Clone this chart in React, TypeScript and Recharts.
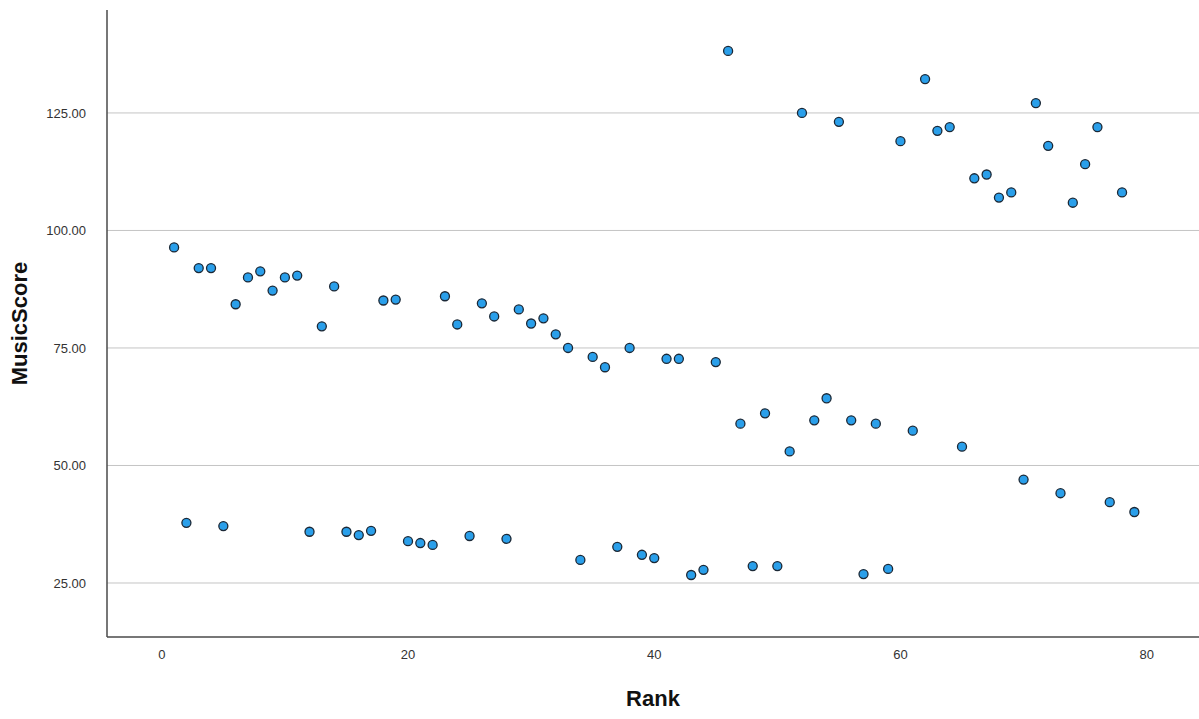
import React from 'react'
import {
  ScatterChart,
  Scatter,
  XAxis,
  YAxis,
  ZAxis,
  CartesianGrid,
  Label
} from 'recharts'

// Rank vs MusicScore
const ranks = [
  1, 2, 3, 4, 5, 6, 7, 8, 9, 10, 11, 12, 13, 14, 15, 16, 17, 18, 19, 20,
  21, 22, 23, 24, 25, 26, 27, 28, 29, 30, 31, 32, 33, 34, 35, 36, 37, 38, 39, 40,
  41, 42, 43, 44, 45, 46, 47, 48, 49, 50, 51, 52, 53, 54, 55, 56, 57, 58, 59, 60,
  61, 62, 63, 64, 65, 66, 67, 68, 69, 70, 71, 72, 73, 74, 75, 76, 77, 78, 79
]

const musicScores = [
  96.4, 37.8, 92.0, 92.0, 37.1, 84.3, 90.0, 91.3, 87.2, 90.0,
  90.4, 35.9, 79.6, 88.1, 35.9, 35.2, 36.1, 85.1, 85.3, 33.9,
  33.5, 33.1, 86.0, 80.0, 35.0, 84.5, 81.7, 34.4, 83.2, 80.2,
  81.3, 77.9, 75.0, 29.9, 73.1, 70.9, 32.7, 75.0, 31.0, 30.3,
  72.7, 72.7, 26.7, 27.8, 72.0, 138.2, 58.9, 28.6, 61.1, 28.6,
  53.0, 125.0, 59.6, 64.3, 123.1, 59.6, 26.9, 58.9, 28.0, 119.0,
  57.4, 132.2, 121.2, 122.0, 54.0, 111.1, 111.9, 107.0, 108.1, 47.0,
  127.1, 118.0, 44.1, 105.9, 114.1, 122.0, 42.2, 108.1, 40.1
]

const xTicks = [0, 20, 40, 60, 80]
const yTicks = [25, 50, 75, 100, 125]

const points = ranks.map((r, i) => ({ rank: r, score: musicScores[i] }))

const font = '"Liberation Sans", Arial, sans-serif'

export default function App() {
  return (
    <div style={{ position: 'absolute', left: 0, top: 0, width: 1199, height: 719, background: '#fff' }}>
      <ScatterChart
        width={1199}
        height={719}
        margin={{ top: 10, right: 0, left: 0, bottom: 0 }}
        style={{ fontFamily: font }}
      >
        <CartesianGrid
          vertical={false}
          horizontalValues={yTicks}
          stroke="#c4c4c4"
          strokeWidth={1}
        />
        <XAxis
          type="number"
          dataKey="rank"
          domain={[-4.45, 84.25]}
          ticks={xTicks}
          allowDataOverflow
          height={82}
          tickLine={false}
          tickSize={0}
          tickMargin={13}
          axisLine={{ stroke: '#4a4a4a', strokeWidth: 1.5 }}
          tick={{ fill: '#333', fontSize: 13, fontFamily: font }}
        >
          <Label
            value="Rank"
            position="insideBottom"
            offset={13}
            style={{ fill: '#111', fontSize: 22, fontWeight: 'bold', fontFamily: font }}
          />
        </XAxis>
        <YAxis
          type="number"
          dataKey="score"
          domain={[13.51, 146.9]}
          ticks={yTicks}
          allowDataOverflow
          width={107}
          tickLine={false}
          tickSize={0}
          tickMargin={21}
          tickFormatter={(v: number) => v.toFixed(2)}
          axisLine={{ stroke: '#4a4a4a', strokeWidth: 1.5 }}
          tick={{ fill: '#333', fontSize: 13, fontFamily: font }}
        >
          <Label
            value="MusicScore"
            angle={-90}
            position="insideLeft"
            offset={19}
            style={{ fill: '#111', fontSize: 22, fontWeight: 'bold', fontFamily: font, textAnchor: 'middle' }}
          />
        </YAxis>
        <ZAxis range={[105, 105]} />
        <Scatter
          data={points}
          fill="#2a9fea"
          stroke="#1b2836"
          strokeWidth={1.3}
          isAnimationActive={false}
        />
      </ScatterChart>
    </div>
  )
}
